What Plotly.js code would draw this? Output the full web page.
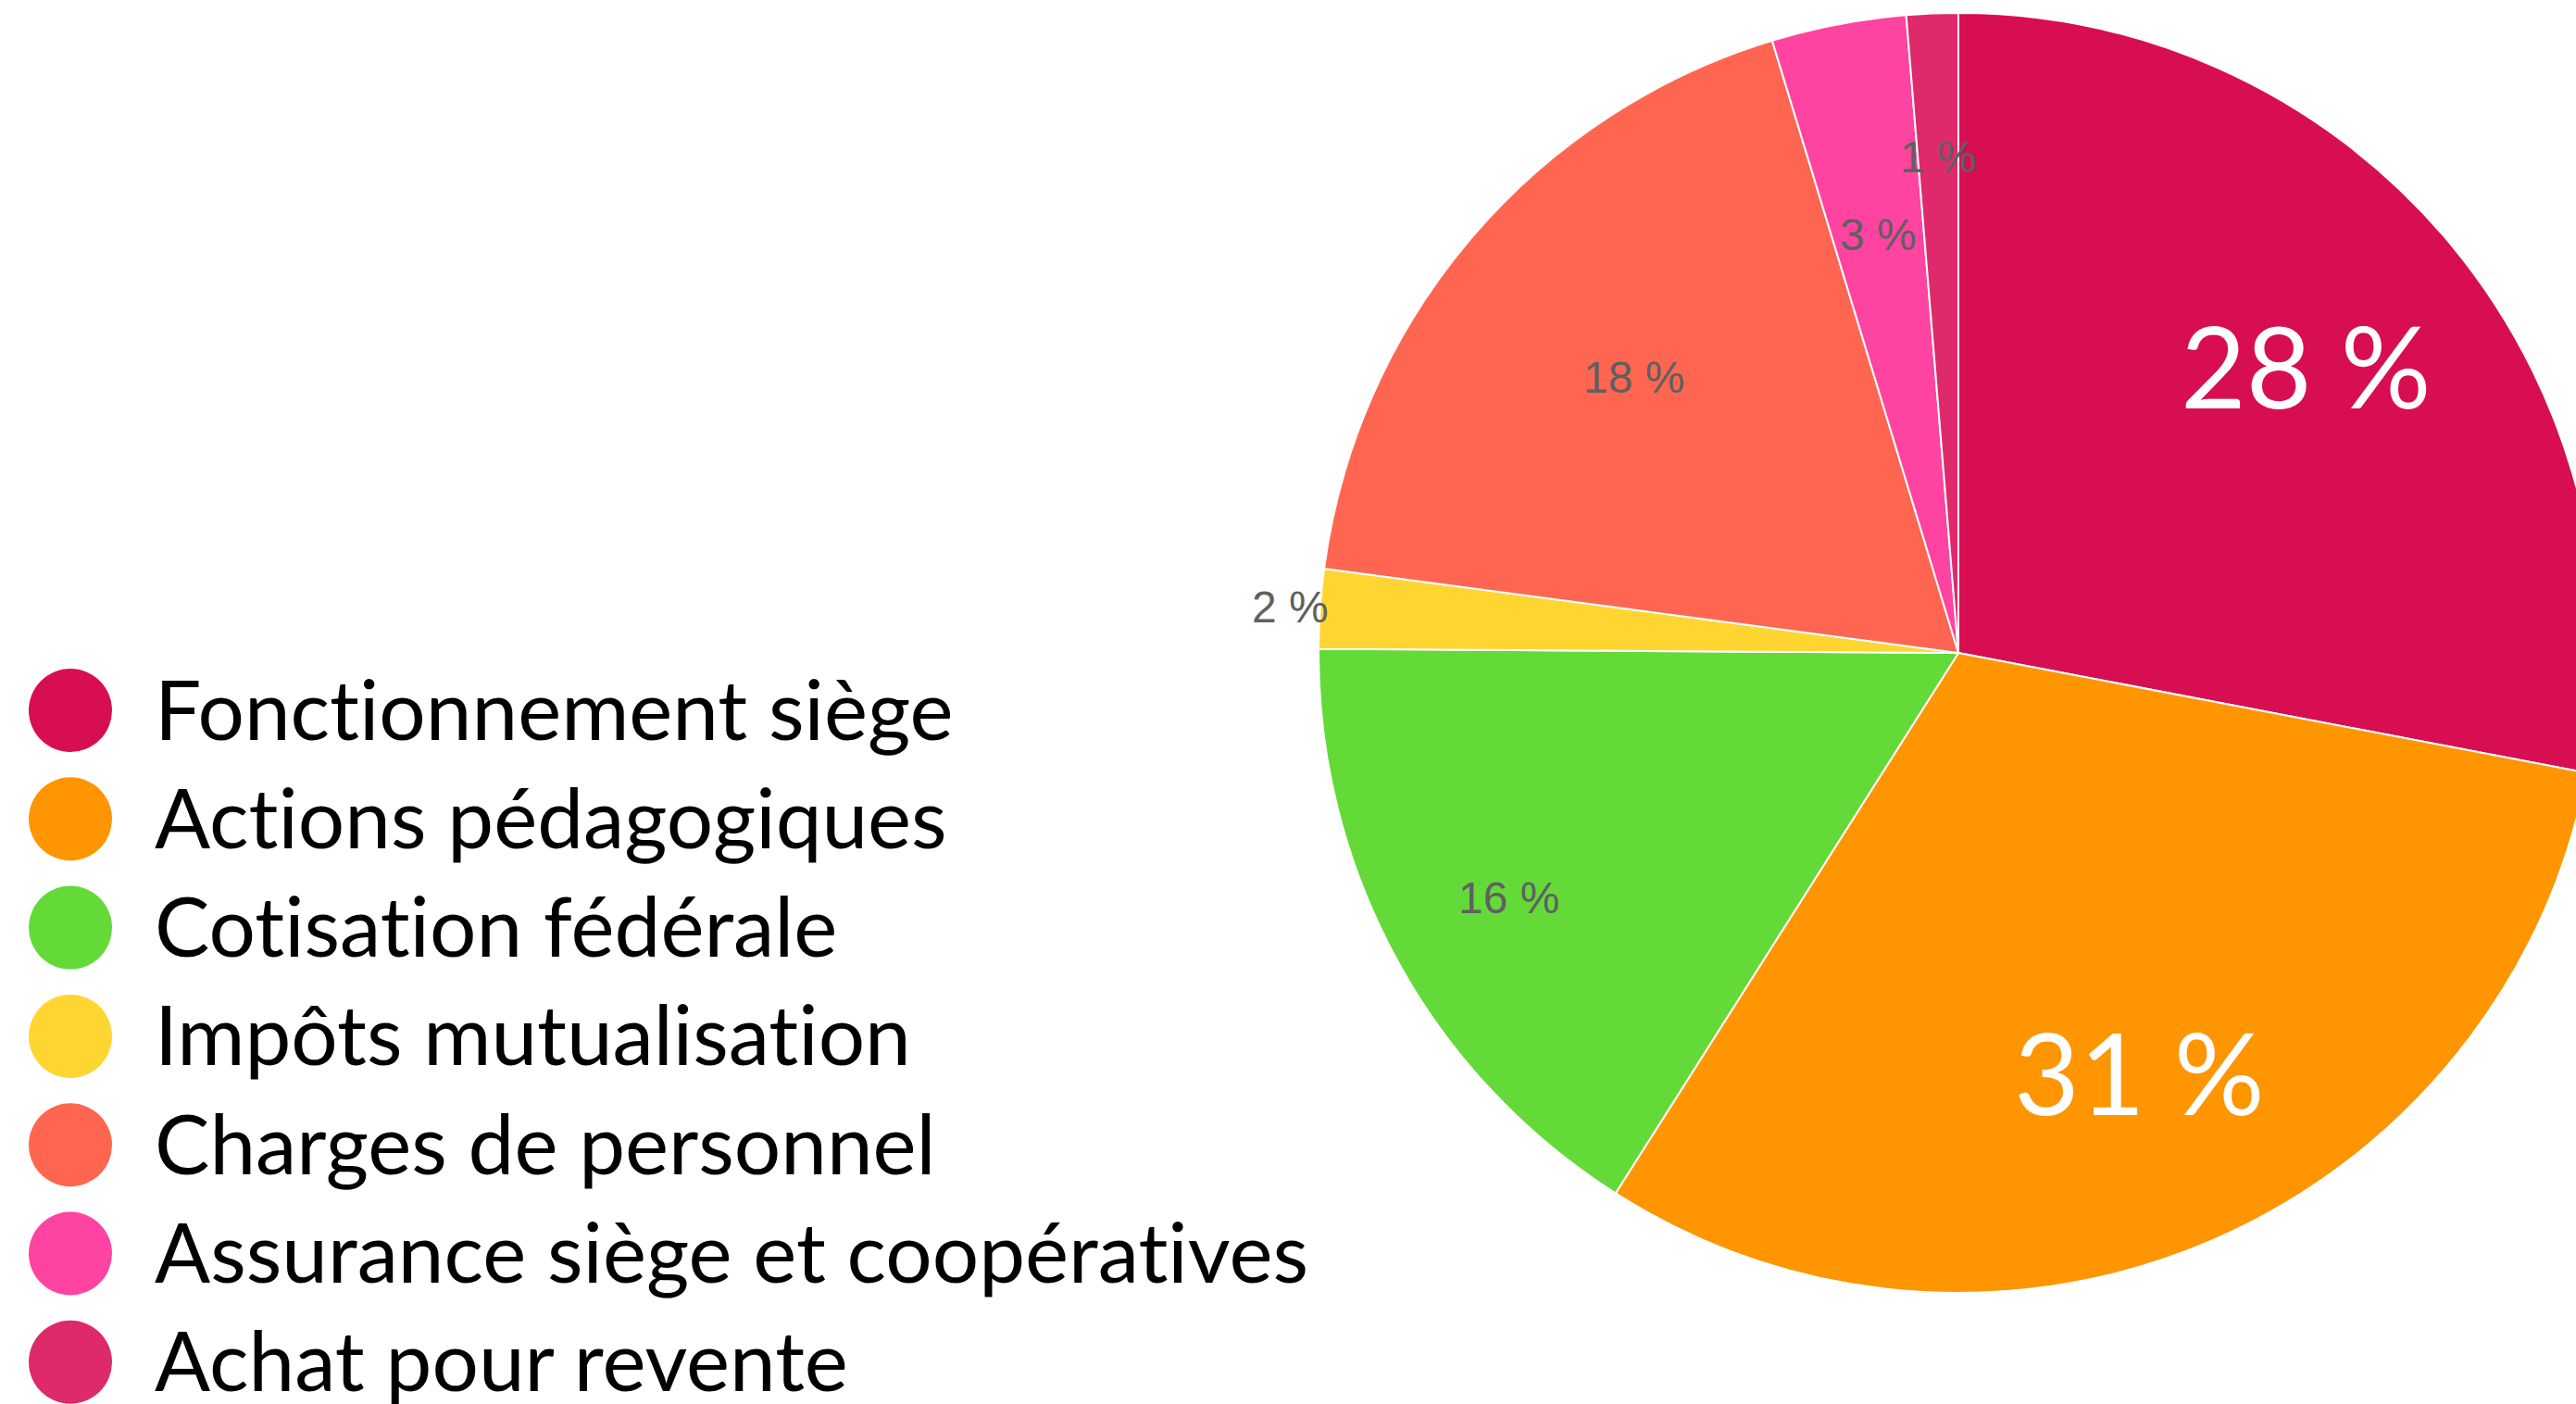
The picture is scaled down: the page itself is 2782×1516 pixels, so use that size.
<!DOCTYPE html>
<html>
<head>
<meta charset="utf-8">
<script src="https://cdn.plot.ly/plotly-3.0.1.min.js"></script>
<style>
html, body { margin: 0; padding: 0; overflow: hidden; background: #ffffff; }
#chart { width: 2830px; height: 1516px; }
text { font-variant-ligatures: none; font-feature-settings: "liga" 0, "clig" 0; }
</style>
</head>
<body>
<div id="chart"></div>
<script>
// ---- data ----
const categories = [
  "Fonctionnement siège",
  "Actions pédagogiques",
  "Cotisation fédérale",
  "Impôts mutualisation",
  "Charges de personnel",
  "Assurance siège et coopératives",
  "Achat pour revente"
];
const shares = [28.0, 31.0, 16.1, 2.0, 18.2, 3.4, 1.3];
const colors = ["#D80E52", "#FF9500", "#64DA38", "#FFD531", "#FF6651", "#FF43A0", "#DE2A6A"];

// ---- label styling (per slice) ----
const labelRadius = [0.705, 0.713, 0.80, 1.046, 0.665, 0.665, 0.776];
const labelBig    = [true, true, false, false, false, false, false];

// ---- layout geometry ----
const W = 2830, H = 1516;
const dom = { x: [1424 / W, 2806 / W], y: [(H - 1396) / H, (H - 14) / H] };

const cx = W * (dom.x[0] + dom.x[1]) / 2;
const cy = H * (1 - (dom.y[0] + dom.y[1]) / 2);
const R = Math.min(W * (dom.x[1] - dom.x[0]), H * (dom.y[1] - dom.y[0])) / 2;

const total = shares.reduce((a, b) => a + b, 0);
const annotations = [];
let cum = 0;
shares.forEach((v, i) => {
  const mid = (cum + v / 2) / total * 2 * Math.PI;
  cum += v;
  const px = cx + labelRadius[i] * R * Math.sin(mid);
  const py = cy - labelRadius[i] * R * Math.cos(mid);
  annotations.push({
    xref: "paper", yref: "paper",
    x: px / W, y: 1 - py / H,
    xanchor: "center", yanchor: "middle",
    showarrow: false,
    text: Math.round(v / total * 100) + " %",
    font: labelBig[i]
      ? { family: "Lato, sans-serif", size: 122, color: "#ffffff" }
      : { family: "Liberation Sans, Arial, sans-serif", size: 48, color: "#5f6060" }
  });
});

// ---- custom legend ----
const legX = 76, legY0 = 767, legStep = 117.3, legR = 45, legTextX = 165;
const shapes = [];
categories.forEach((c, i) => {
  const yy = legY0 + i * legStep;
  shapes.push({
    type: "circle", xref: "paper", yref: "paper",
    x0: (legX - legR) / W, x1: (legX + legR) / W,
    y0: 1 - (yy + legR) / H, y1: 1 - (yy - legR) / H,
    fillcolor: colors[i], line: { width: 0 }
  });
  annotations.push({
    xref: "paper", yref: "paper",
    x: legTextX / W, y: 1 - (yy - 3) / H,
    xanchor: "left", yanchor: "middle",
    showarrow: false,
    text: c,
    font: { family: "Lato, sans-serif", size: 89, color: "#000000" }
  });
});

const trace = {
  type: "pie",
  labels: categories,
  values: shares,
  sort: false,
  direction: "clockwise",
  rotation: 0,
  marker: { colors: colors, line: { color: "#ffffff", width: 2 } },
  textinfo: "none",
  hoverinfo: "label+percent",
  domain: dom,
  showlegend: false
};

const layout = {
  width: W, height: H,
  margin: { l: 0, r: 0, t: 0, b: 0, pad: 0 },
  paper_bgcolor: "#ffffff",
  showlegend: false,
  annotations: annotations,
  shapes: shapes
};

Plotly.newPlot("chart", [trace], layout, { displayModeBar: false, staticPlot: true });
</script>
</body>
</html>
